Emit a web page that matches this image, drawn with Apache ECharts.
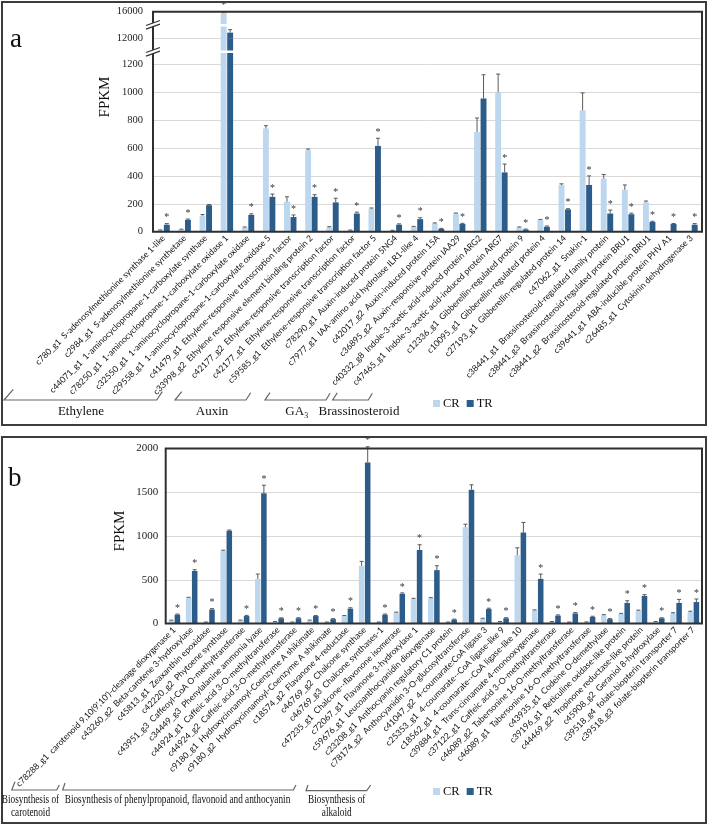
<!DOCTYPE html>
<html><head><meta charset="utf-8">
<script src="https://cdn.jsdelivr.net/npm/echarts@6/dist/echarts.min.js"></script>
<style>html,body{margin:0;padding:0;background:#fff}#c{width:709px;height:825px}</style>
</head><body><div id="c"></div>
<script>
// ---------- Panel a data ----------
const catsA = [
 'c780_g1  S-adenosylmethionine synthase 1-like',
 'c2984_g1  S-adenosylmethionine synthetase',
 'c44071_g1  1-aminocyclopropane-1-carboxylate synthase',
 'c78250_g1  1-aminocyclopropane-1-carboxylate oxidase 1',
 'c32550_g1  1-aminocyclopropane-1-carboxylate oxidase',
 'c29558_g1  1-aminocyclopropane-1-carboxylate oxidase 5',
 'c41479_g1  Ethylene-responsive transcription factor',
 'c33998_g2  Ethylene responsive element binding protein 2',
 'c42177_g2  Ethylene-responsive transcription factor',
 'c42177_g1  Ethylene-responsive transcription factor',
 'c59585_g1  Ethylene-responsive transcription factor 5',
 'c78290_g1  Auxin-induced protein 5NG4',
 'c7977_g1  IAA-amino acid hydrolase ILR1-like 4',
 'c42017_g2  Auxin-induced protein 15A',
 'c36895_g2  Auxin-responsive protein IAA29',
 'c40332_g8  Indole-3-acetic acid-induced protein ARG2',
 'c47465_g1  Indole-3-acetic acid-induced protein ARG7',
 'c12336_g1  Gibberellin-regulated protein 9',
 'c10095_g1  Gibberellin-regulated protein 4',
 'c27193_g1  Gibberellin-regulated protein 14',
 'c47062_g1  Snakin-1',
 'c38441_g1  Brassinosteroid-regulated family protein',
 'c38441_g3  Brassinosteroid-regulated protein BRU1',
 'c38441_g2  Brassinosteroid-regulated protein BRU1',
 'c39641_g1  ABA-inducible protein PHV A1',
 'c26485_g1  Cytokinin dehydrogenase 3'
];
const crA    = [10, 15, 115, 15800, 30, 740, 215, 585, 30, 10, 165, 8, 35, 60, 130, 715, 1000, 30, 85, 335, 870, 380, 300, 210, 0, 0];
const trA    = [50, 85, 190, 12850, 120, 250, 105, 250, 210, 130, 615, 50, 90, 20, 55, 955, 425, 15, 35, 160, 335, 130, 125, 70, 55, 50];
const crErrA = [3, 3, 8, 200, 4, 20, 35, 8, 6, 2, 5, 2, 3, 3, 4, 100, 130, 4, 3, 8, 125, 30, 35, 10, 0, 0];
const trErrA = [8, 6, 5, 450, 8, 20, 15, 15, 30, 10, 55, 6, 10, 4, 5, 170, 60, 4, 6, 5, 65, 25, 8, 5, 4, 8];
const sigA   = ['TR','TR','','CR','TR','TR','TR','TR','TR','TR','TR','TR','TR','TR','TR','','TR','TR','TR','TR','TR','TR','TR','TR','TR','TR'];
const groupsA = ['Ethylene', 'Auxin', 'GA₃', 'Brassinosteroid'];

// ---------- Panel b data ----------
const catsB = [
 "c78288_g1  carotenoid 9,10(9',10')-cleavage dioxygenase 1",
 'c43260_g2  Beta-carotene 3-hydroxylase',
 'c45813_g1  Zeaxanthin epoxidase',
 'c42220_g2  Phytoene synthase',
 'c43951_g3  Caffeoyl-CoA O-methyltransferase',
 'c34449_g3  Phenylalanine ammonia lyase',
 'c44924_g1  Caffeic acid 3-O-methyltransferase',
 'c44924_g2  Caffeic acid 3-O-methyltransferase',
 'c9180_g1  Hydroxycinnamoyl-Coenzyme A shikimate',
 'c9180_g2  Hydroxycinnamoyl-Coenzyme A shikimate',
 'c18574_g2  Flavanone 4-reductase',
 'c46769_g2  Chalcone synthase',
 'c46769_g3  Chalcone synthases-1',
 'c47235_g1  Chalcone--flavonone isomerase',
 'c72067_g1  Flavanone 3-hydroxylase 1',
 'c59676_g1  Leucoanthocyanidin dioxygenase',
 'c23208_g1  Anthocyanin regulatory C1 protein',
 'c78174_g2  Anthocyanidin 3-O-glucosyltransferase',
 'c41047_g2  4-coumarate:CoA ligase 3',
 'c25353_g1  4-coumarate--CoA ligase-like 9',
 'c18562_g1  4-coumarate--CoA ligase-like 10',
 'c39884_g1  Trans-cinnamate 4-monooxygenase',
 'c37122_g1  Caffeic acid 3-O-methyltransferase',
 'c46089_g2  Tabersonine 16-O-methyltransferase',
 'c46089_g1  Tabersonine 16-O-methyltransferase',
 'c43935_g1  Codeine O-demethylase',
 'c39196_g1  Reticuline oxidase-like protein',
 'c44469_g2  Tropinone reductase-like protein',
 'c45908_g2  Geraniol 8-hydroxylase',
 'c39518_g4  folate-biopterin transporter 7',
 'c39518_g3  folate-biopterin transporter 7'
];
const crB    = [35, 295, 15, 830, 35, 510, 20, 15, 35, 15, 85, 660, 15, 125, 280, 290, 15, 1100, 55, 20, 780, 150, 20, 15, 15, 95, 110, 145, 20, 115, 130];
const trB    = [100, 600, 160, 1060, 85, 1490, 60, 60, 85, 50, 170, 1840, 100, 340, 840, 610, 45, 1530, 165, 60, 1040, 510, 90, 115, 75, 50, 235, 315, 60, 235, 245];
const crErrB = [3, 5, 2, 8, 4, 55, 3, 2, 4, 2, 6, 50, 2, 5, 8, 6, 2, 35, 5, 3, 85, 6, 3, 2, 3, 6, 6, 8, 3, 8, 10];
const trErrB = [8, 15, 10, 8, 8, 90, 5, 6, 6, 5, 10, 180, 8, 10, 60, 50, 5, 55, 10, 6, 115, 55, 8, 10, 8, 6, 25, 15, 5, 40, 35];
const sigB   = ['TR','TR','TR','','TR','TR','TR','TR','TR','TR','TR','TR','TR','TR','TR','TR','TR','','TR','TR','','TR','TR','TR','TR','TR','TR','TR','TR','TR','TR'];

const ticksALow  = [0, 200, 400, 600, 800, 1000, 1200];
const ticksAHigh = [12000, 16000];
const ticksB     = [0, 500, 1000, 1500, 2000];

// ---------- styling / layout ----------
const CRC = '#BDD7EE', TRC = '#2C5C8A';
const SERIF = "'Liberation Serif','Times New Roman',serif";
const NARROW = "'Liberation Sans Narrow','Lato',sans-serif";
const A_L = 153, A_R = 702, A_T = 11.7, A_B = 231.7, A_MID = 38.3, A_1200 = 64.3;
const lowMax = ticksALow[ticksALow.length-1] * (A_B - A_MID) / (A_B - A_1200);
const B_L = 165.7, B_R = 702, B_T = 448.5, B_B = 623.5;

function errSeries(name, xi, yi, vals, errs, sig, side, pct, gap, showFn) {
  return {
    type: 'custom', name: name, xAxisIndex: xi, yAxisIndex: yi, z: 5, silent: true,
    data: vals.map((v, i) => [i, v, errs[i], sig[i] === side ? 1 : 0]),
    renderItem: function (params, api) {
      const i = api.value(0), v = api.value(1), e = api.value(2), s = api.value(3);
      if (!showFn(v, e)) return null;
      const band = api.size([1, 0])[0];
      const bw = band * pct;
      const p = api.coord([i, v]);
      const x = p[0] + (side === 'CR' ? -1 : 1) * bw * (1 + gap) / 2;
      const yt = api.coord([i, v + e])[1];
      const ch = [];
      if (e > 0) {
        ch.push({type: 'line', shape: {x1: x, y1: p[1], x2: x, y2: yt}, style: {stroke: '#5a5a5a', lineWidth: 1}});
        ch.push({type: 'line', shape: {x1: x - 2, y1: yt, x2: x + 2, y2: yt}, style: {stroke: '#5a5a5a', lineWidth: 1}});
      }
      if (s) ch.push({type: 'text', x: x, y: yt - 1, style: {text: '*', align: 'center', verticalAlign: 'bottom', font: '10px ' + SERIF, fill: '#333'}});
      return {type: 'group', children: ch};
    }
  };
}

const catLabel = {interval: 0, rotate: 45, fontSize: 8.6, fontFamily: NARROW, color: '#111', margin: 5};
const plain = v => String(v);
const valLabel = (m, fs) => ({fontSize: fs, fontFamily: SERIF, color: '#222', margin: m, formatter: plain});
const split = {show: true, lineStyle: {color: '#d9d9d9', width: 1}};

const option = {
  animation: false,
  backgroundColor: '#fff',
  grid: [
    {left: A_L, top: A_MID, width: A_R - A_L, height: A_B - A_MID},
    {left: A_L, top: A_T, width: A_R - A_L, height: A_MID - A_T},
    {left: B_L, top: B_T, width: B_R - B_L, height: B_B - B_T}
  ],
  xAxis: [
    {type: 'category', gridIndex: 0, data: catsA, axisLine: {show: false}, axisTick: {show: false}, axisLabel: catLabel},
    {type: 'category', gridIndex: 1, data: catsA, show: false},
    {type: 'category', gridIndex: 2, data: catsB, axisLine: {show: false}, axisTick: {show: false}, axisLabel: catLabel}
  ],
  yAxis: [
    {type: 'value', gridIndex: 0, min: 0, max: lowMax, interval: 200, axisLine: {show: false}, axisTick: {show: false},
     axisLabel: Object.assign(valLabel(10, 10.5), {showMaxLabel: false, formatter: v => ticksALow.indexOf(v) >= 0 ? String(v) : ''}), splitLine: split},
    {type: 'value', gridIndex: 1, min: ticksAHigh[0], max: ticksAHigh[1], interval: ticksAHigh[1] - ticksAHigh[0], axisLine: {show: false}, axisTick: {show: false},
     axisLabel: valLabel(10, 10.5), splitLine: split},
    {type: 'value', gridIndex: 2, min: ticksB[0], max: ticksB[ticksB.length-1], interval: ticksB[1] - ticksB[0], axisLine: {show: false}, axisTick: {show: false},
     axisLabel: valLabel(7.5, 11), splitLine: split}
  ],
  legend: [
    {left: 428, top: 392, itemWidth: 7, itemHeight: 7, itemGap: 7, icon: 'rect', data: ['CR', 'TR'], textStyle: {fontFamily: SERIF, fontSize: 12.5, color: '#111', padding: [0,0,0,-2]}},
    {left: 428, top: 780, itemWidth: 7, itemHeight: 7, itemGap: 7, icon: 'rect', data: ['CR', 'TR'], textStyle: {fontFamily: SERIF, fontSize: 12.5, color: '#111', padding: [0,0,0,-2]}}
  ],
  series: [
    {type: 'bar', name: 'CR', xAxisIndex: 0, yAxisIndex: 0, data: crA, barWidth: '28%', barGap: '10%', itemStyle: {color: CRC}, clip: true},
    {type: 'bar', name: 'TR', xAxisIndex: 0, yAxisIndex: 0, data: trA, barWidth: '28%', barGap: '10%', itemStyle: {color: TRC}, clip: true},
    {type: 'bar', name: 'CR', xAxisIndex: 1, yAxisIndex: 1, data: crA, barWidth: '28%', barGap: '10%', itemStyle: {color: CRC}, clip: true},
    {type: 'bar', name: 'TR', xAxisIndex: 1, yAxisIndex: 1, data: trA, barWidth: '28%', barGap: '10%', itemStyle: {color: TRC}, clip: true},
    {type: 'bar', name: 'CR', xAxisIndex: 2, yAxisIndex: 2, data: crB, barWidth: '32%', barGap: '10%', itemStyle: {color: CRC}, clip: true},
    {type: 'bar', name: 'TR', xAxisIndex: 2, yAxisIndex: 2, data: trB, barWidth: '32%', barGap: '10%', itemStyle: {color: TRC}, clip: true},
    errSeries('eCRa', 0, 0, crA, crErrA, sigA, 'CR', 0.28, 0.1, (v, e) => v + e <= lowMax),
    errSeries('eTRa', 0, 0, trA, trErrA, sigA, 'TR', 0.28, 0.1, (v, e) => v + e <= lowMax),
    errSeries('eCRa2', 1, 1, crA, crErrA, sigA, 'CR', 0.28, 0.1, (v, e) => v >= ticksAHigh[0]),
    errSeries('eTRa2', 1, 1, trA, trErrA, sigA, 'TR', 0.28, 0.1, (v, e) => v >= ticksAHigh[0]),
    errSeries('eCRb', 2, 2, crB, crErrB, sigB, 'CR', 0.32, 0.1, () => true),
    errSeries('eTRb', 2, 2, trB, trErrB, sigB, 'TR', 0.32, 0.1, () => true)
  ],
  graphic: {elements: []}
};

const G = option.graphic.elements;
const frameStroke = '#2f2f2f';
// panel borders
G.push({type: 'rect', shape: {x: 2, y: 2, width: 704, height: 423}, style: {fill: null, stroke: '#3c3c3c', lineWidth: 2}, z: 50});
G.push({type: 'rect', shape: {x: 2, y: 437, width: 704, height: 386}, style: {fill: null, stroke: '#3c3c3c', lineWidth: 2}, z: 50});
// plot frames
G.push({type: 'rect', shape: {x: A_L, y: A_T, width: A_R - A_L, height: A_B - A_T}, style: {fill: null, stroke: frameStroke, lineWidth: 2}, z: 60});
G.push({type: 'rect', shape: {x: B_L, y: B_T, width: B_R - B_L, height: B_B - B_T}, style: {fill: null, stroke: frameStroke, lineWidth: 2}, z: 60});
// axis breaks (white cut through bars + slanted marks on axis)
[[24, 2.6, 20.5], [50.4, 2.6, 47.5]].forEach(function (b) {
  G.push({type: 'rect', shape: {x: A_L + 2, y: b[0], width: A_R - A_L - 4, height: b[1]}, style: {fill: '#fff'}, z: 100});
  const y0 = b[2];
  G.push({type: 'polygon', shape: {points: [[146, y0 + 5], [160, y0], [160, y0 + 3.6], [146, y0 + 8.6]]}, style: {fill: '#fff'}, z: 101});
  G.push({type: 'line', shape: {x1: 146, y1: y0 + 5, x2: 160, y2: y0}, style: {stroke: '#333', lineWidth: 1.3}, z: 102});
  G.push({type: 'line', shape: {x1: 146, y1: y0 + 8.6, x2: 160, y2: y0 + 3.6}, style: {stroke: '#333', lineWidth: 1.3}, z: 102});
});
// panel letters
G.push({type: 'text', x: 10, y: 26, style: {text: 'a', font: '27px ' + SERIF, fill: '#111', verticalAlign: 'alphabetic'}, z: 60});
G.push({type: 'text', x: 8, y: 465, style: {text: 'b', font: '27px ' + SERIF, fill: '#111', verticalAlign: 'alphabetic'}, z: 60});
// FPKM
G.push({type: 'text', x: 105, y: 97, rotation: Math.PI / 2, style: {text: 'FPKM', font: '15px ' + SERIF, fill: '#111', align: 'center', verticalAlign: 'middle'}, z: 60});
G.push({type: 'text', x: 120, y: 531, rotation: Math.PI / 2, style: {text: 'FPKM', font: '15px ' + SERIF, fill: '#111', align: 'center', verticalAlign: 'middle'}, z: 60});
// group brackets
const brA = [
  [[13.3, 389.3], [4, 400], [156.7, 400], [162.3, 391.7]],
  [[181.7, 391.7], [175, 400], [246, 400], [250.7, 392.7]],
  [[270, 392.7], [265, 400], [326, 400], [330, 393.3]],
  [[337.3, 392.7], [332.7, 400], [368.3, 400], [372.3, 393.3]]
];
const brB = [
  [[15, 781.7], [11.7, 790], [56.7, 790], [59.3, 785]],
  [[65, 783], [62.7, 790], [293.3, 790], [296, 785]],
  [[308, 785], [306, 790.7], [366.7, 790.7], [370.7, 785]]
];
brA.concat(brB).forEach(p => G.push({type: 'polyline', shape: {points: p}, style: {stroke: '#666', lineWidth: 1.2, fill: null}, z: 60}));
const gxA = [81, 212, 297, 359];
groupsA.forEach((t, i) => G.push({type: 'text', x: gxA[i], y: 412, style: {text: t, font: '13px ' + SERIF, fill: '#111', align: 'center', verticalAlign: 'middle'}, z: 60}));
const gB = [
  ['Biosynthesis of', 30.5, 800], ['carotenoid', 30.5, 812.5],
  ['Biosynthesis of phenylpropanoid, flavonoid and anthocyanin', 177.5, 800],
  ['Biosynthesis of', 336.7, 800], ['alkaloid', 336.7, 812.5]
];
gB.forEach(g => G.push({type: 'text', x: g[1], y: g[2], scaleX: 0.74, style: {text: g[0], font: '12.5px ' + SERIF, fill: '#111', align: 'center', verticalAlign: 'middle'}, z: 60}));

const chart = echarts.init(document.getElementById('c'), null, {renderer: 'canvas'});
chart.setOption(option);
</script></body></html>
